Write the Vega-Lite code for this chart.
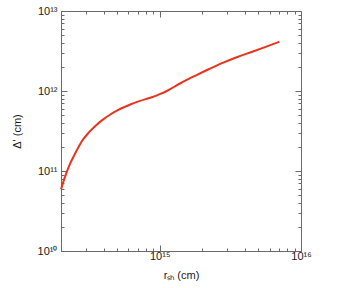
{
  "$schema": "https://vega.github.io/schema/vega-lite/v6.json",
  "width": 240,
  "height": 240,
  "autosize": "none",
  "padding": {"left": 61, "top": 11, "right": 43, "bottom": 37},
  "background": "white",
  "config": {
    "view": {"stroke": "#6a6a6a", "strokeWidth": 1},
    "axis": {
      "grid": false,
      "domain": false,
      "tickColor": "#6a6a6a",
      "tickWidth": 1,
      "labelFont": "Liberation Sans",
      "titleFont": "Liberation Sans",
      "labelFontSize": 11,
      "titleFontSize": 11,
      "titleFontWeight": "normal",
      "labelColor": "#1a1a1a",
      "titleColor": "#1a1a1a",
      "labelFlush": false,
      "labelOverlap": false
    }
  },
  "data": {
    "values": [
      {"r": 2.0e14, "d": 5.89e10},
      {"r": 2.138e14, "d": 8.51e10},
      {"r": 2.291e14, "d": 1.175e11},
      {"r": 2.512e14, "d": 1.641e11},
      {"r": 2.818e14, "d": 2.371e11},
      {"r": 3.162e14, "d": 3.055e11},
      {"r": 3.548e14, "d": 3.741e11},
      {"r": 3.981e14, "d": 4.416e11},
      {"r": 4.467e14, "d": 5.082e11},
      {"r": 5.012e14, "d": 5.715e11},
      {"r": 5.623e14, "d": 6.31e11},
      {"r": 6.31e14, "d": 6.887e11},
      {"r": 7.079e14, "d": 7.413e11},
      {"r": 7.943e14, "d": 7.925e11},
      {"r": 8.913e14, "d": 8.414e11},
      {"r": 1.0e15, "d": 9.12e11},
      {"r": 1.122e15, "d": 1.0e12},
      {"r": 1.259e15, "d": 1.122e12},
      {"r": 1.413e15, "d": 1.259e12},
      {"r": 1.778e15, "d": 1.549e12},
      {"r": 2.239e15, "d": 1.884e12},
      {"r": 2.818e15, "d": 2.265e12},
      {"r": 3.548e15, "d": 2.661e12},
      {"r": 4.467e15, "d": 3.076e12},
      {"r": 5.623e15, "d": 3.565e12},
      {"r": 7.031e15, "d": 4.13e12}
    ]
  },
  "resolve": {"axis": {"x": "independent", "y": "independent"}},
  "layer": [
    {
      "mark": {"type": "line", "color": "#e8341c", "strokeWidth": 2, "interpolate": "monotone"},
      "encoding": {
        "x": {
          "field": "r", "type": "quantitative",
          "scale": {"type": "log", "domain": [2e14, 1e16], "nice": false},
          "axis": {
            "title": "rₛₕ (cm)",
            "titlePadding": 8,
            "values": [1e15, 1e16],
            "labelExpr": "datum.value == 1e15 ? '10¹⁵' : '10¹⁶'",
            "tickSize": -6,
            "labelPadding": 5
          }
        },
        "y": {
          "field": "d", "type": "quantitative",
          "scale": {"type": "log", "domain": [1e10, 1e13], "nice": false},
          "axis": {
            "title": "Δ' (cm)",
            "titlePadding": 15,
            "values": [1e10, 1e11, 1e12, 1e13],
            "labelExpr": "datum.value == 1e10 ? '10¹⁰' : datum.value == 1e11 ? '10¹¹' : datum.value == 1e12 ? '10¹²' : '10¹³'",
            "tickSize": -6,
            "labelPadding": 10
          }
        }
      }
    },
    {
      "mark": {"type": "line", "opacity": 0},
      "encoding": {
        "x": {
          "field": "r", "type": "quantitative",
          "scale": {"type": "log", "domain": [2e14, 1e16], "nice": false},
          "axis": {"orient": "top", "title": null, "labels": false, "values": [1e15, 1e16], "tickSize": -6}
        },
        "y": {
          "field": "d", "type": "quantitative",
          "scale": {"type": "log", "domain": [1e10, 1e13], "nice": false},
          "axis": {"orient": "right", "title": null, "labels": false, "values": [1e10, 1e11, 1e12, 1e13], "tickSize": -6}
        }
      }
    },
    {
      "mark": {"type": "line", "opacity": 0},
      "encoding": {
        "x": {
          "field": "r", "type": "quantitative",
          "scale": {"type": "log", "domain": [2e14, 1e16], "nice": false},
          "axis": {"orient": "bottom", "title": null, "labels": false, "values": [2e14,3e14,4e14,5e14,6e14,7e14,8e14,9e14,2e15,3e15,4e15,5e15,6e15,7e15,8e15,9e15], "tickSize": -3}
        },
        "y": {
          "field": "d", "type": "quantitative",
          "scale": {"type": "log", "domain": [1e10, 1e13], "nice": false},
          "axis": {"orient": "left", "title": null, "labels": false, "values": [2e10,3e10,4e10,5e10,6e10,7e10,8e10,9e10,2e11,3e11,4e11,5e11,6e11,7e11,8e11,9e11,2e12,3e12,4e12,5e12,6e12,7e12,8e12,9e12], "tickSize": -3}
        }
      }
    },
    {
      "mark": {"type": "line", "opacity": 0},
      "encoding": {
        "x": {
          "field": "r", "type": "quantitative",
          "scale": {"type": "log", "domain": [2e14, 1e16], "nice": false},
          "axis": {"orient": "top", "title": null, "labels": false, "values": [2e14,3e14,4e14,5e14,6e14,7e14,8e14,9e14,2e15,3e15,4e15,5e15,6e15,7e15,8e15,9e15], "tickSize": -3}
        },
        "y": {
          "field": "d", "type": "quantitative",
          "scale": {"type": "log", "domain": [1e10, 1e13], "nice": false},
          "axis": {"orient": "right", "title": null, "labels": false, "values": [2e10,3e10,4e10,5e10,6e10,7e10,8e10,9e10,2e11,3e11,4e11,5e11,6e11,7e11,8e11,9e11,2e12,3e12,4e12,5e12,6e12,7e12,8e12,9e12], "tickSize": -3}
        }
      }
    }
  ]
}
